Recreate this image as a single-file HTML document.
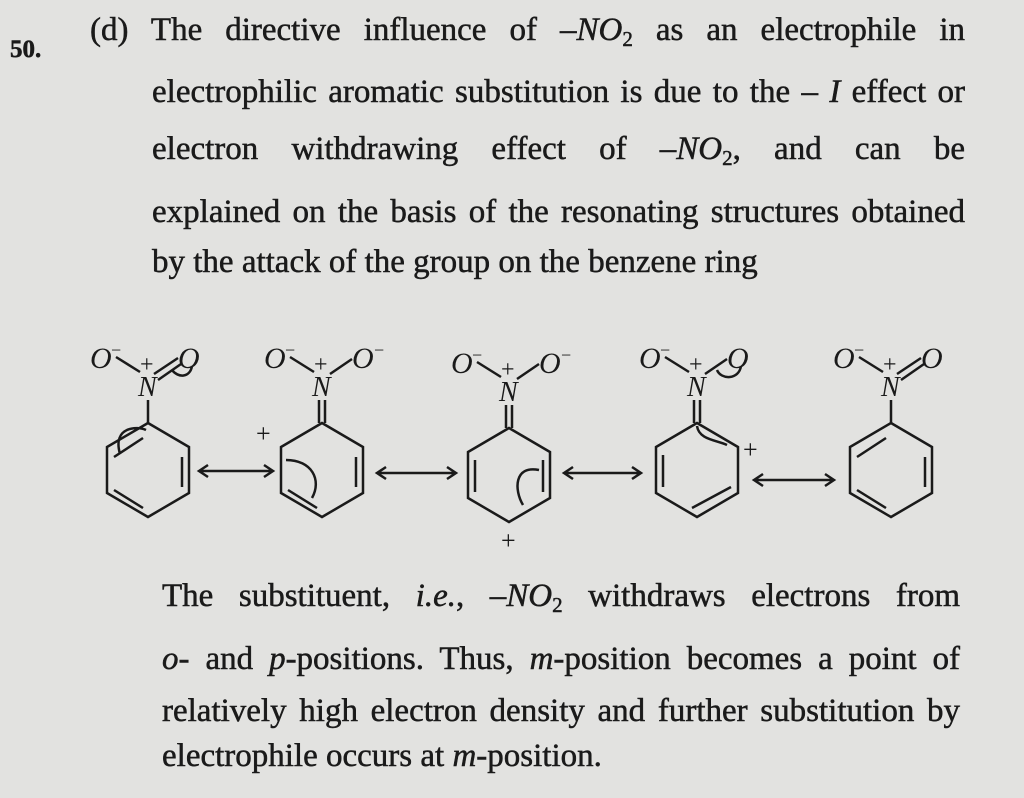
<!DOCTYPE html>
<html><head><style>
body{margin:0;width:1024px;height:798px;background:#e2e2e0;overflow:hidden;position:relative;font-family:"Liberation Serif",serif;color:#1a1a1a}
.l{position:absolute;font-size:33px;white-space:nowrap;text-align:justify;text-align-last:justify;-webkit-text-stroke:0.5px #1a1a1a}
sub{font-size:21px;vertical-align:-6px;line-height:0}
</style></head><body>
<div class="l" style="left:10px;top:36px;font-size:25px;font-weight:bold;text-align-last:left">50.</div>
<div class="l" style="left:90px;top:12px;width:875px">(d) The directive influence of <i>–NO</i><sub>2</sub> as an electrophile in</div>
<div class="l" style="left:152px;top:74px;width:813px">electrophilic aromatic substitution is due to the – <i>I</i> effect or</div>
<div class="l" style="left:152px;top:131px;width:813px">electron withdrawing effect of <i>–NO</i><sub>2</sub>, and can be</div>
<div class="l" style="left:152px;top:194px;width:813px">explained on the basis of the resonating structures obtained</div>
<div class="l" style="left:152px;top:244px;text-align-last:left">by the attack of the group on the benzene ring</div>

<div class="l" style="left:162px;top:578px;width:798px">The substituent, <i>i.e.</i>, <i>–NO</i><sub>2</sub> withdraws electrons from</div>
<div class="l" style="left:162px;top:641px;width:798px"><i>o</i>- and <i>p</i>-positions. Thus, <i>m</i>-position becomes a point of</div>
<div class="l" style="left:162px;top:693px;width:798px">relatively high electron density and further substitution by</div>
<div class="l" style="left:162px;top:738px;text-align-last:left">electrophile occurs at <i>m</i>-position.</div>

<svg width="1024" height="798" style="position:absolute;left:0;top:0" font-family="Liberation Serif" fill="none" stroke="#1a1a1a" stroke-width="2.5">
<defs><g id="hex"><polygon points="0,-47 41,-23 41,23 0,47 -41,23 -41,-23"/></g>
<g id="no2"><text x="-58" y="-102" font-size="30" font-style="italic" fill="#1a1a1a" stroke="none">O</text><text x="-37" y="-114" font-size="18" fill="#1a1a1a" stroke="none">−</text>
<text x="-8" y="-98" font-size="24" fill="#1a1a1a" stroke="none">+</text>
<text x="-10" y="-74" font-size="28" font-style="italic" fill="#1a1a1a" stroke="none">N</text>
<line x1="-32" y1="-113" x2="-8" y2="-98"/></g>
<g id="oR"><text x="30" y="-102" font-size="30" font-style="italic" fill="#1a1a1a" stroke="none">O</text></g>
<g id="oRm"><text x="30" y="-102" font-size="30" font-style="italic" fill="#1a1a1a" stroke="none">O</text><text x="52" y="-114" font-size="18" fill="#1a1a1a" stroke="none">−</text><line x1="8" y1="-96" x2="30" y2="-111"/></g>
<g id="dbl"><line x1="6" y1="-96" x2="30" y2="-112"/><line x1="10" y1="-90" x2="33" y2="-106"/></g>
</defs>
<g transform="translate(148,470)"><use href="#hex"/><use href="#no2"/><use href="#oR"/><use href="#dbl"/>
<line x1="0" y1="-47" x2="0" y2="-70"/>
<line x1="-34" y1="-13" x2="-5" y2="-32"/><line x1="34" y1="-13" x2="34" y2="17"/><line x1="-5" y1="38" x2="-34" y2="20"/>
<path d="M-28,-16 C-36,-44 -10,-44 -2,-40"/><path d="M24,-100 C30,-92 42,-92 44,-104"/></g>
<g transform="translate(322,470)"><use href="#hex"/><use href="#no2"/><use href="#oRm"/>
<line x1="-3" y1="-47" x2="-3" y2="-70"/><line x1="3" y1="-47" x2="3" y2="-70"/>
<line x1="34" y1="-13" x2="34" y2="17"/><line x1="-5" y1="38" x2="-34" y2="20"/>
<text x="-66" y="-28" font-size="26" fill="#1a1a1a" stroke="none">+</text>
<path d="M-10,28 C0,10 -10,-10 -36,-10"/></g>
<g transform="translate(509,475)"><use href="#hex"/><use href="#no2"/><use href="#oRm"/>
<line x1="-3" y1="-47" x2="-3" y2="-70"/><line x1="3" y1="-47" x2="3" y2="-70"/>
<line x1="-34" y1="-15" x2="-34" y2="17"/><line x1="34" y1="-15" x2="34" y2="17"/>
<text x="-8" y="74" font-size="26" fill="#1a1a1a" stroke="none">+</text>
<path d="M30,-5 C5,-10 5,15 14,30"/></g>
<g transform="translate(697,470)"><use href="#hex"/><use href="#no2"/><use href="#oR"/>
<line x1="-3" y1="-47" x2="-3" y2="-70"/><line x1="3" y1="-47" x2="3" y2="-70"/><line x1="8" y1="-96" x2="30" y2="-111"/>
<line x1="-34" y1="-15" x2="-34" y2="17"/><line x1="-5" y1="38" x2="34" y2="17"/>
<text x="46" y="-12" font-size="26" fill="#1a1a1a" stroke="none">+</text>
<path d="M0,-44 C2,-30 20,-30 30,-25"/><path d="M20,-100 C24,-90 42,-90 44,-104"/></g>
<g transform="translate(891,470)"><use href="#hex"/><use href="#no2"/><use href="#oR"/><use href="#dbl"/>
<line x1="0" y1="-47" x2="0" y2="-70"/>
<line x1="-34" y1="-13" x2="-5" y2="-32"/><line x1="34" y1="-13" x2="34" y2="17"/><line x1="-5" y1="38" x2="-34" y2="20"/></g>
<g stroke-width="2.5">
<path d="M200,471 H272 M208,465 L199,471 L208,477 M264,465 L273,471 L264,477"/>
<path d="M378,473 H455 M386,467 L377,473 L386,479 M447,467 L456,473 L447,479"/>
<path d="M565,473 H640 M573,467 L564,473 L573,479 M632,467 L641,473 L632,479"/>
<path d="M755,480 H833 M763,474 L754,480 L763,486 M825,474 L834,480 L825,486"/>
</g>
</svg>
</body></html>
